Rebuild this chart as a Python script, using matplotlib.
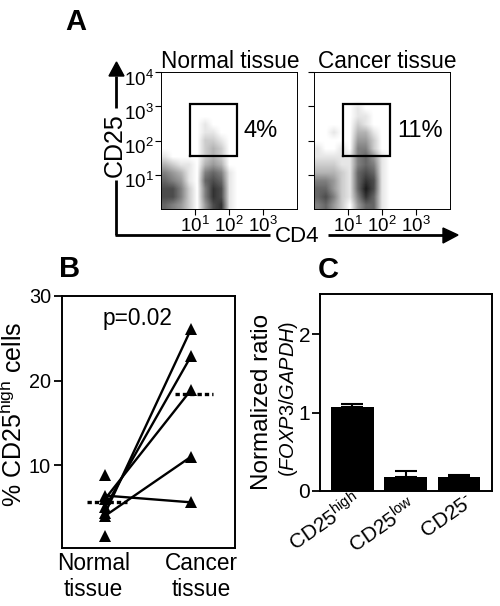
import matplotlib

matplotlib.use("Agg")
import matplotlib.pyplot as plt
import numpy as np
from matplotlib.lines import Line2D
from matplotlib.patches import Polygon
from matplotlib.transforms import ScaledTranslation

plt.rcParams["font.family"] = ["Liberation Sans", "DejaVu Sans"]
plt.rcParams["mathtext.fontset"] = "custom"
plt.rcParams["mathtext.rm"] = "Liberation Sans"
plt.rcParams["mathtext.it"] = "Liberation Sans:italic"
plt.rcParams["mathtext.bf"] = "Liberation Sans:bold"
plt.rcParams["mathtext.default"] = "regular"

W, H = 500, 606

# ---- Panel A: dot density (0-9, top row first) ----
density_normal = [
    "00000000000000000",
    "00000000000000000",
    "00000000000000000",
    "00000000000000000",
    "00000000000000000",
    "00000000000000000",
    "00000100000000000",
    "00000110000000000",
    "00000221000000000",
    "00000232000000000",
    "10000232000000000",
    "32110343000000000",
    "54310565100000000",
    "65410676100000000",
    "77520587100000000",
    "77520587100000000",
    "65420478100000000",
]
density_cancer = [
    "00000000000000000",
    "00000000000000000",
    "00000000000000000",
    "00000000000000000",
    "00000100000000000",
    "00000110000000000",
    "00000210000000000",
    "00100331000000000",
    "00000442000000000",
    "10010552000000000",
    "11111564100000000",
    "22211565100000000",
    "33321676100000000",
    "55421687100000000",
    "66421697100000000",
    "67521586100000000",
    "56420466100000000",
]
gate_x = [7.1, 172]
gate_y = [35, 1170]
gate_labels = ["4%", "11%"]
flow_titles = ["Normal tissue", "Cancer tissue"]
flow_xticks = [10, 100, 1000]
flow_xlabels = ["$10^{1}$", "$10^{2}$", "$10^{3}$"]
flow_yticks = [10, 100, 1000, 10000]
flow_ylabels = ["$10^{1}$", "$10^{2}$", "$10^{3}$", "$10^{4}$"]

# ---- Panel B: paired percentages ----
normal_paired = [4.3, 5.0, 6.0, 4.0, 6.4]
cancer_paired = [26.1, 22.9, 18.9, 11.0, 5.6]
normal_extra = [8.8, 1.6]
mean_normal = 5.6
mean_cancer = 18.4
b_yticks = [10, 20, 30]

# ---- Panel C: bars ----
c_categories = ["CD25$^{high}$", "CD25$^{low}$", "CD25$^{\u2010}$"]
c_values = [1.07, 0.18, 0.18]
c_errors = [0.04, 0.07, 0.02]
c_yticks = [0, 1, 2]

fig = plt.figure(figsize=(W / 100, H / 100), dpi=100)


def axes_px(left, top, right, bottom):
    return fig.add_axes([left / W, 1 - bottom / H, (right - left) / W, (bottom - top) / H])


def label_px(x, y, s, **kw):
    kw.setdefault("ha", "center")
    kw.setdefault("va", "center")
    fig.text(x / W, 1 - y / H, s, color="black", **kw)


def line_px(xs, ys, lw=2.0):
    fig.add_artist(Line2D([x / W for x in xs], [1 - y / H for y in ys],
                          color="black", lw=lw, solid_capstyle="butt"))


def head_px(points):
    fig.add_artist(Polygon([(x / W, 1 - y / H) for x, y in points], closed=True,
                           color="black", transform=fig.transFigure))


def draw_flow(box, rows, title_x, title, pct, pct_x, show_ylabels):
    dens = np.array([[int(c) for c in row] for row in rows])
    # density goes on a plain axes behind, the log axes on top share its box
    back = axes_px(*box)
    back.imshow(dens, cmap="gray_r", vmin=0, vmax=10, extent=(0, 4, 0, 4),
                aspect="auto", interpolation="bilinear")
    back.axis("off")
    ax = axes_px(*box)
    ax.patch.set_alpha(0)
    ax.set_xscale("log")
    ax.set_yscale("log")
    ax.set_xlim(1, 10000)
    ax.set_ylim(1, 10000)
    ax.plot([gate_x[0], gate_x[1], gate_x[1], gate_x[0], gate_x[0]],
            [gate_y[0], gate_y[0], gate_y[1], gate_y[1], gate_y[0]],
            color="black", lw=1.6, solid_joinstyle="miter")
    ax.set_xticks(flow_xticks)
    ax.set_xticklabels(flow_xlabels, fontsize=13.5)
    ax.set_yticks(flow_yticks)
    ax.set_yticklabels(flow_ylabels if show_ylabels else [], fontsize=13.5)
    ax.tick_params(which="major", length=4, width=0.8, pad=1)
    ax.tick_params(which="minor", length=2, width=0.5)
    # tick labels sit a little lower than their ticks in the original
    down = ScaledTranslation(0, -4 / 72, fig.dpi_scale_trans)
    for t in ax.get_yticklabels():
        t.set_transform(t.get_transform() + down)
    for s in ax.spines.values():
        s.set_linewidth(0.7)
    label_px(title_x, 61, title, fontsize=16.3)
    label_px(pct_x, 131, pct, fontsize=17)


draw_flow((161, 72, 297, 209), density_normal, 230.5, flow_titles[0], gate_labels[0], 261, True)
draw_flow((314, 72, 450, 209), density_cancer, 387, flow_titles[1], gate_labels[1], 420, False)

# axis arrows of panel A
line_px([116, 116], [76, 108])
head_px([(116.5, 62), (109, 76), (124, 76)])
line_px([116, 116], [180, 235])
line_px([115, 270], [234.5, 234.5])
line_px([328, 444], [234.5, 234.5])
head_px([(458, 235), (443, 228), (443, 243)])
label_px(115, 145, "CD25", fontsize=18, rotation=90)
label_px(297, 236, "CD4", fontsize=16)

# ---- Panel B ----
ax_b = axes_px(62, 296, 235, 548)
ax_b.set_xlim(-0.5, 1.51)
ax_b.set_ylim(0.2, 30)
for a, b in zip(normal_paired, cancer_paired):
    ax_b.plot([0, 1], [a, b], color="black", lw=1.7, marker="^", ms=8, mew=0)
ax_b.plot([0] * len(normal_extra), normal_extra, ls="none", color="black", marker="^", ms=8, mew=0)
ax_b.plot([-0.21, 0.26], [mean_normal, mean_normal], color="black", lw=2.4, ls=(0, (1.3, 0.9)))
ax_b.plot([0.81, 1.26], [mean_cancer, mean_cancer], color="black", lw=2.4, ls=(0, (1.3, 0.9)))
ax_b.set_xticks([])
ax_b.set_yticks(b_yticks)
ax_b.set_yticklabels([str(t) for t in b_yticks], fontsize=14.3)
ax_b.tick_params(axis="y", length=6, width=1.3, pad=2)
for s in ax_b.spines.values():
    s.set_linewidth(1.4)
label_px(138, 318, "p=0.02", fontsize=16.3)
label_px(93.5, 563, "Normal", fontsize=16.3)
label_px(93.5, 590, "tissue", fontsize=16.3)
label_px(201, 563, "Cancer", fontsize=16.3)
label_px(201, 590, "tissue", fontsize=16.3)
label_px(13, 414, "% CD25$^{high}$ cells", fontsize=18, rotation=90)

# ---- Panel C ----
ax_r = axes_px(320, 294, 492, 491)
xpos = np.arange(len(c_values))
ax_r.bar(xpos, c_values, width=0.8, color="black")
ax_r.errorbar(xpos, c_values, yerr=[[0] * len(c_errors), c_errors], ls="none",
              ecolor="black", elinewidth=1.5, capsize=8, capthick=1.5)
ax_r.set_xlim(-0.61, 2.62)
ax_r.set_ylim(0, 2.51)
ax_r.set_xticks([])
ax_r.set_yticks(c_yticks)
ax_r.set_yticklabels([str(t) for t in c_yticks], fontsize=15)
ax_r.tick_params(axis="y", length=6, width=1.3, pad=1)
for s in ax_r.spines.values():
    s.set_linewidth(1.4)
for cat, (x, y) in zip(c_categories, [(325, 522), (383, 525), (447, 517)]):
    label_px(x, y, cat, fontsize=15, rotation=35, rotation_mode="anchor")
label_px(262, 402, "Normalized ratio", fontsize=17.5, rotation=90)
label_px(288, 399, "($\\mathit{FOXP3/GAPDH}$)", fontsize=14.4, rotation=90)

# panel letters
label_px(76, 22, "A", fontsize=21, fontweight="bold")
label_px(70, 269, "B", fontsize=21, fontweight="bold")
label_px(328, 270, "C", fontsize=21, fontweight="bold")

fig.savefig("out.png", dpi=100)
plt.close(fig)
